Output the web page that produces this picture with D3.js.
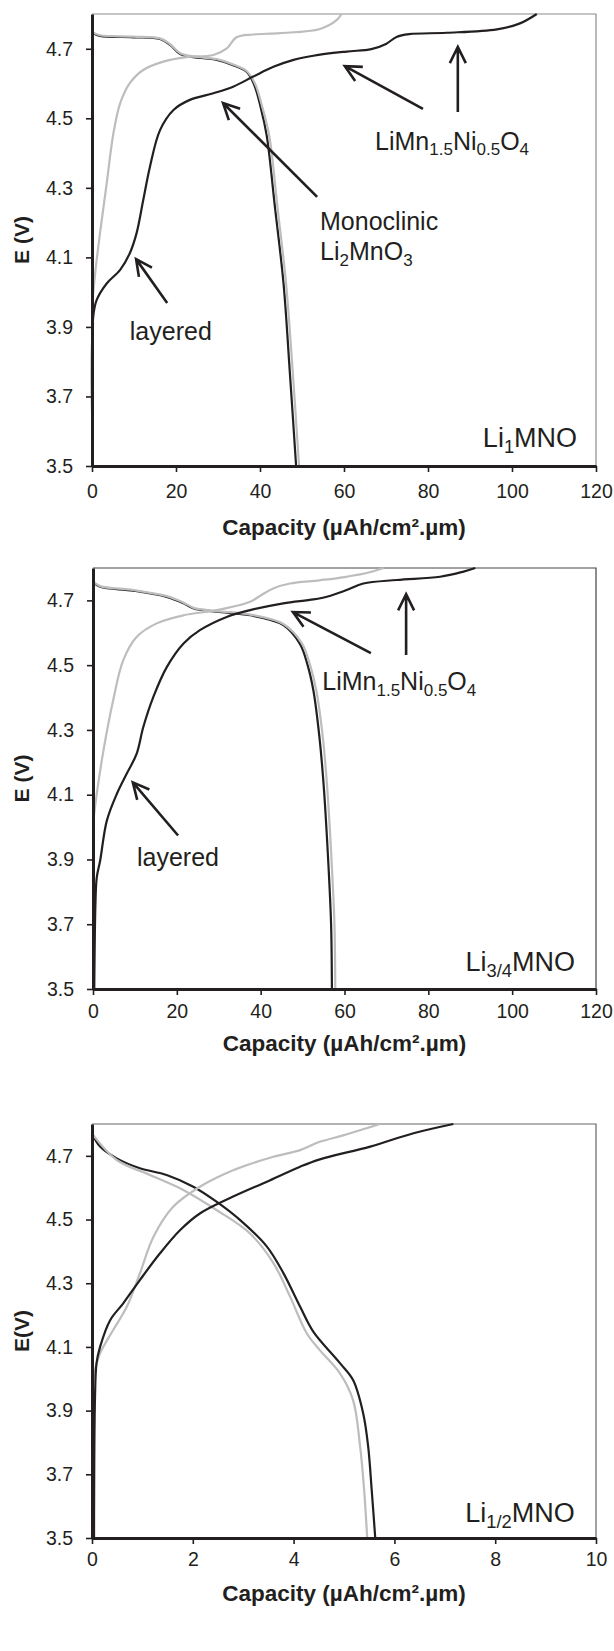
<!DOCTYPE html>
<html>
<head>
<meta charset="utf-8">
<title>Li MNO charge / discharge</title>
<script src="https://cdn.jsdelivr.net/npm/d3@7"></script>
<style>
  body { margin: 0; background: #fff; }
  svg { display: block; font-family: "Liberation Sans", Arial, sans-serif; }
</style>
</head>
<body>
<svg id="svg"></svg>
<script>
var WIDTH = 614, HEIGHT = 1651;
var INK = "#231f20", GREY = "#bdbdbd";

var yTicks = [3.5, 3.7, 3.9, 4.1, 4.3, 4.5, 4.7];
var xTicks120 = [0, 20, 40, 60, 80, 100, 120];
var xTicks10 = [0, 2, 4, 6, 8, 10];
var xTitle = "Capacity (\u00b5Ah/cm\u00b2.\u00b5m)";

// Li1MNO  [capacity, E]
var li1ChargeBlack = [[0.2,3.5],[0.3,3.93],[1.1,3.977],[3.5,4.025],[6.7,4.064],[9.0,4.112],[10.6,4.169],
  [12.2,4.265],[13.8,4.361],[16.2,4.466],[19.4,4.524],[23.3,4.553],[28.9,4.572],[33.6,4.591],[38.4,4.62],
  [43.2,4.648],[48,4.668],[52.7,4.68],[60.6,4.692],[66.5,4.699],[70,4.714],[72.5,4.734],[75.5,4.742],
  [84.4,4.746],[96.4,4.756],[101.9,4.773],[105.9,4.8]];
var li1ChargeGrey = [[0,3.96],[0.8,4.06],[1.9,4.169],[3.5,4.313],[5.1,4.457],[6.7,4.543],[9.0,4.601],
  [12.2,4.639],[17,4.663],[22.5,4.676],[28.9,4.682],[32.1,4.701],[34.4,4.733],[38.4,4.741],[44.8,4.745],
  [54.3,4.757],[58.3,4.783],[59.4,4.8]];
var li1DischBlack = [[0,4.746],[1.9,4.737],[9.8,4.733],[16.2,4.728],[18.6,4.711],[21,4.685],[24.1,4.676],
  [29.7,4.668],[33.6,4.653],[36.8,4.634],[38.5,4.6],[40.2,4.53],[41.6,4.45],[43.6,4.24],[45.6,4.025],
  [47.1,3.77],[48.6,3.5]];
var li1DischGrey = [[0,4.748],[1.9,4.739],[9.8,4.735],[16.2,4.73],[18.6,4.713],[21,4.687],[24.1,4.678],
  [29.7,4.67],[33.6,4.655],[36.8,4.636],[38.8,4.6],[40.6,4.53],[42.2,4.45],[44.2,4.24],[46.2,4.025],
  [47.8,3.77],[49.3,3.5]];

// Li3/4MNO
var li34ChargeBlack = [[0.3,3.5],[0.6,3.772],[0.9,3.845],[1.7,3.896],[3.3,4.02],[5.7,4.103],[8,4.164],
  [10.4,4.226],[12,4.309],[14.4,4.402],[17.6,4.494],[21.6,4.567],[25.5,4.608],[31.9,4.649],[37.5,4.67],
  [45.4,4.691],[52.6,4.703],[56,4.712],[60.5,4.732],[64.5,4.752],[72.5,4.763],[82.8,4.773],[88.4,4.789],
  [91.2,4.8]];
var li34ChargeGrey = [[0,4.01],[0.9,4.103],[2.5,4.237],[4.8,4.391],[7.2,4.515],[10.4,4.587],[15.2,4.629],
  [21.6,4.654],[29.5,4.67],[37.5,4.696],[40,4.715],[43,4.737],[47,4.752],[54,4.762],[60,4.772],[66,4.787],
  [69.3,4.8]];
var li34DischBlack = [[0,4.757],[1.7,4.742],[9.6,4.73],[17.6,4.711],[21.6,4.691],[24,4.675],[29.5,4.665],
  [37.5,4.654],[45.4,4.624],[49.4,4.565],[51.2,4.5],[52.6,4.42],[54,4.28],[55,4.134],[56.2,3.875],
  [56.8,3.7],[57,3.5]];
var li34DischGrey = [[0,4.759],[1.7,4.744],[9.6,4.732],[17.6,4.713],[21.6,4.693],[24,4.677],[29.5,4.667],
  [37.5,4.656],[45.4,4.627],[49.8,4.568],[51.8,4.5],[53.3,4.42],[54.8,4.28],[55.8,4.134],[57,3.875],
  [57.6,3.7],[57.8,3.5]];

// Li1/2MNO
var li12ChargeBlack = [[0.04,3.5],[0.06,3.944],[0.09,4.049],[0.16,4.1],[0.36,4.184],[0.62,4.237],
  [0.95,4.31],[1.35,4.394],[1.75,4.467],[2.14,4.519],[2.8,4.572],[3.47,4.619],[4.13,4.666],[4.52,4.689],
  [5.52,4.729],[6.38,4.771],[7.17,4.8]];
var li12ChargeGrey = [[0,3.965],[0.06,4.028],[0.16,4.08],[0.42,4.153],[0.69,4.226],[0.95,4.331],
  [1.22,4.446],[1.61,4.54],[2.14,4.603],[2.8,4.655],[3.6,4.697],[4.13,4.718],[4.52,4.744],[5.0,4.765],
  [5.71,4.8]];
var li12DischBlack = [[0,4.771],[0.16,4.729],[0.49,4.692],[0.95,4.661],[1.48,4.64],[2.01,4.603],
  [2.47,4.556],[2.94,4.498],[3.47,4.415],[3.8,4.331],[4.13,4.226],[4.39,4.148],[4.92,4.049],[5.18,3.996],
  [5.38,3.892],[5.48,3.787],[5.55,3.65],[5.62,3.5]];
var li12DischGrey = [[0,4.77],[0.49,4.687],[1.15,4.64],[1.81,4.593],[2.47,4.53],[3.13,4.457],[3.6,4.363],
  [3.93,4.258],[4.26,4.143],[4.52,4.09],[4.92,4.017],[5.18,3.933],[5.32,3.787],[5.4,3.65],[5.46,3.5]];

// annotations: text pieces [string, isSub], placed at [capacity, E]
var notes1 = [
  {t: [["layered"]], at: [9.0, 3.862]},
  {t: [["Monoclinic"]], at: [54.3, 4.179]},
  {t: [["Li"], ["2", 1], ["MnO"], ["3", 1]], at: [54.3, 4.092]},
  {t: [["LiMn"], ["1.5", 1], ["Ni"], ["0.5", 1], ["O"], ["4", 1]], at: [67.4, 4.409]},
  {t: [["Li"], ["1", 1], ["MNO"]], at: [115.5, 3.555], end: true}
];
var arrows1 = [[17.9,3.969,10.5,4.095],[53.6,4.274,31.2,4.544],[78.8,4.527,60.2,4.65],[87.1,4.518,87.1,4.705]];

var notes2 = [
  {t: [["layered"]], at: [10.5, 3.881]},
  {t: [["LiMn"], ["1.5", 1], ["Ni"], ["0.5", 1], ["O"], ["4", 1]], at: [54.7, 4.422]},
  {t: [["Li"], ["3/4", 1], ["MNO"]], at: [115, 3.556], end: true}
];
var arrows2 = [[20.3,3.974,9.5,4.138],[66.3,4.537,47.7,4.664],[74.7,4.531,74.7,4.719]];

var notes3 = [
  {t: [["Li"], ["1/2", 1], ["MNO"]], at: [9.58, 3.55], end: true}
];

var panels = [
  {box: [92, 596, 14, 466], xMax: 120, xTicks: xTicks120, yTitle: "E (V)", titleY: 527, pad: 12, border: "#8c8c8c",
   curves: [[li1DischBlack, INK], [li1DischGrey, GREY], [li1ChargeGrey, GREY], [li1ChargeBlack, INK]],
   notes: notes1, arrows: arrows1},
  {box: [93, 596, 568, 989], xMax: 120, xTicks: xTicks120, yTitle: "E (V)", titleY: 1043, pad: 9, border: "#444",
   curves: [[li34DischBlack, INK], [li34DischGrey, GREY], [li34ChargeGrey, GREY], [li34ChargeBlack, INK]],
   notes: notes2, arrows: arrows2},
  {box: [92, 596, 1124, 1538], xMax: 10, xTicks: xTicks10, yTitle: "E(V)", titleY: 1593, pad: 8, border: "#666",
   curves: [[li12DischBlack, INK], [li12DischGrey, GREY], [li12ChargeGrey, GREY], [li12ChargeBlack, INK]],
   notes: notes3, arrows: []}
];

var svg = d3.select("#svg").attr("width", WIDTH).attr("height", HEIGHT);

function writeChem(sel, parts, size) {
  var shift = 0;
  parts.forEach(function(p) {
    var sub = !!p[1];
    var want = sub ? size * 0.22 : 0;
    sel.append("tspan")
       .attr("dy", want - shift)
       .attr("font-size", sub ? size * 0.68 : size)
       .text(p[0]);
    shift = want;
  });
}

panels.forEach(function(p) {
  var L = p.box[0], R = p.box[1], T = p.box[2], B = p.box[3];
  var x = d3.scaleLinear().domain([0, p.xMax]).range([L, R]);
  var y = d3.scaleLinear().domain([3.5, 4.8]).range([B, T]);
  var g = svg.append("g");

  // thin frame on top and right
  g.append("path")
   .attr("d", "M" + L + "," + T + "H" + R + "V" + B)
   .attr("fill", "none").attr("stroke", p.border).attr("stroke-width", 1.2);

  var line = d3.line()
               .x(function(d) { return x(d[0]); })
               .y(function(d) { return y(d[1]); })
               .curve(d3.curveCatmullRom.alpha(0.5));

  g.selectAll("path.curve")
   .data(p.curves)
   .enter()
   .append("path")
   .attr("class", "curve")
   .attr("d", function(d) { return line(d[0]); })
   .attr("fill", "none")
   .attr("stroke", function(d) { return d[1]; })
   .attr("stroke-width", 2.2)
   .attr("stroke-linejoin", "round");

  var ax = g.append("g")
            .attr("transform", "translate(0," + B + ")")
            .call(d3.axisBottom(x).tickValues(p.xTicks).tickSize(6).tickSizeOuter(0).tickPadding(p.pad));
  var ay = g.append("g")
            .attr("transform", "translate(" + L + ",0)")
            .call(d3.axisLeft(y).tickValues(yTicks).tickFormat(d3.format(".1f"))
                  .tickSize(6).tickSizeOuter(0).tickPadding(13));
  [ax, ay].forEach(function(a) {
    a.select(".domain").attr("stroke", INK).attr("stroke-width", 3);
    a.selectAll(".tick line").attr("stroke", INK).attr("stroke-width", 1.6);
    a.selectAll(".tick text").attr("fill", INK).attr("font-size", 19.5)
     .attr("font-family", "'Liberation Sans', Arial, sans-serif");
  });

  g.append("text")
   .attr("x", (L + R) / 2).attr("y", p.titleY)
   .attr("dy", "0.35em")
   .attr("text-anchor", "middle")
   .attr("font-weight", "bold").attr("font-size", 22.5)
   .attr("fill", INK)
   .text(xTitle);

  g.append("text")
   .attr("transform", "translate(22," + ((T + B) / 2) + ") rotate(-90)")
   .attr("dy", "0.35em")
   .attr("text-anchor", "middle")
   .attr("font-weight", "bold").attr("font-size", 21)
   .attr("fill", INK)
   .text(p.yTitle);

  p.notes.forEach(function(n) {
    var t = g.append("text")
             .attr("x", x(n.at[0])).attr("y", y(n.at[1]))
             .attr("text-anchor", n.end ? "end" : "start")
             .attr("fill", INK);
    writeChem(t, n.t, n.end ? 27 : 25);
  });

  p.arrows.forEach(function(a) {
    var x1 = x(a[0]), y1 = y(a[1]), x2 = x(a[2]), y2 = y(a[3]);
    var ang = Math.atan2(y2 - y1, x2 - x1);
    var len = 18, spread = 0.46;
    var w1 = [x2 - len * Math.cos(ang - spread), y2 - len * Math.sin(ang - spread)];
    var w2 = [x2 - len * Math.cos(ang + spread), y2 - len * Math.sin(ang + spread)];
    g.append("path")
     .attr("d", "M" + x1 + "," + y1 + "L" + x2 + "," + y2 +
                "M" + w1[0] + "," + w1[1] + "L" + x2 + "," + y2 + "L" + w2[0] + "," + w2[1])
     .attr("fill", "none").attr("stroke", INK).attr("stroke-width", 2.6)
     .attr("stroke-linejoin", "miter");
  });
});
</script>
</body>
</html>
